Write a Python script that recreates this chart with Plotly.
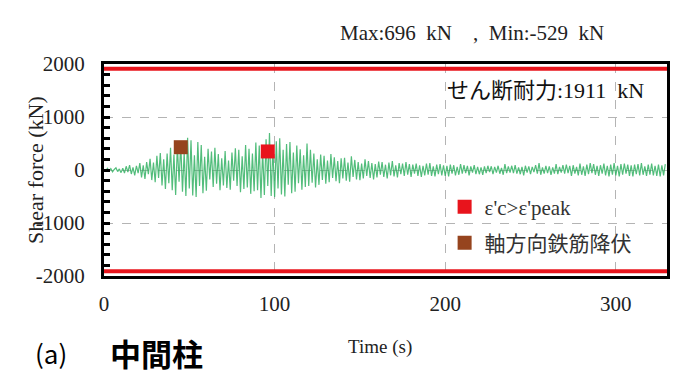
import plotly.graph_objects as go

# ---- data ----
time_step = 1.0
shear_force = [
    5, -20, 30, -15, 25, -35, 10, 40, -30, 20,
    -50, 35, -60, 70, -40, 90, -75, 50, -100, 80,
    -60, 130, -140, 90, -170, 150, -80, 210, -190, 140,
    -230, 270, -150, 320, -290, 200, -360, 310, -250, 420,
    -380, 290, -470, 450, -220, 500, -410, 330, -490, 610,
    -350, 560, -480, 280, -510, 530, -300, 470, -440, 250,
    -390, 400, -180, 350, -320, 420, -260, 300, -380, 220,
    -290, 360, -340, 180, -370, 330, -200, 410, -300, 380,
    -420, 260, -360, 470, -330, 400, -450, 310, -400, 520,
    -380, 460, -529, 350, -470, 580, -300, 696, -490, 430,
    -510, 540, -350, 600, -460, 380, -500, 490, -280, 530,
    -440, 330, -410, 460, -250, 390, -370, 280, -320, 500,
    -300, 380, -240, 310, -330, 200, -280, 290, -190, 270,
    -260, 180, -230, 300, -150, 240, -210, 170, -250, 220,
    -160, 230, -200, 140, -220, 260, -130, 190, -180, 150,
    -190, 120, -160, 200, -110, 170, -150, 130, -180, 110,
    -140, 160, -90, 150, -130, 100, -160, 140, -100, 170,
    -120, 90, -140, 130, -80, 120, -110, 150, -90, 110,
    -130, 100, -70, 120, -110, 90, -130, 80, -100, 120,
    -90, 130, -110, 70, -120, 100, -80, 110, -100, 90,
    -110, 80, -120, 100, -70, 90, -100, 60, -90, 110,
    -70, 90, -60, 80, -100, 70, -50, 90, -80, 60,
    -80, 50, -90, 70, -60, 80, -40, 70, -80, 60,
    -50, 80, -70, 40, -90, 110, -60, 70, -50, 80,
    -60, 90, -70, 50, -80, 60, -100, 80, -50, 70,
    -80, 60, -40, 90, -70, 130, -90, 50, -70, 80,
    -60, 70, -90, 50, -70, 110, -80, 60, -50, 90,
    -70, 100, -60, 80, -110, 90, -70, 60, -100, 120,
    -90, 70, -110, 100, -80, 130, -60, 110, -90, 80,
    -110, 90, -70, 120, -100, 80, -120, 100, -90, 130,
    -100, 80, -120, 110, -90, 120, -70, 100, -110, 90,
    -120, 100, -80, 110, -100, 130, -90, 70, -110, 100,
    -90, 120, -100, 80, -110, 100, -120, 90, -100, 110,
]
time_s = [i * time_step for i in range(len(shear_force))]

shear_capacity = 1911
max_force = 696
min_force = -529

peak_strain_time = [96]
peak_strain_force = [350]
rebar_yield_time = [45]
rebar_yield_force = [430]

x_range = [0, 330]
y_range = [-2000, 2000]
x_ticks = [0, 100, 200, 300]
y_ticks = [-2000, -1000, 0, 1000, 2000]
y_tick_labels = ["-2000", "-1000", "0", "1000", "2000"]

SERIF = "Liberation Serif, Noto Sans CJK JP"
SANS = "Noto Sans CJK JP, Noto Sans"

fig = go.Figure()

fig.add_trace(go.Scatter(
    x=time_s, y=shear_force, mode="lines",
    line=dict(color="rgba(52,178,100,0.85)", width=1.2),
    showlegend=False, hoverinfo="skip"))

for s in (1, -1):
    fig.add_trace(go.Scatter(
        x=x_range, y=[s * shear_capacity] * 2, mode="lines",
        line=dict(color="#e8141c", width=4),
        showlegend=False, hoverinfo="skip"))

fig.add_trace(go.Scatter(
    x=peak_strain_time, y=peak_strain_force, mode="markers",
    marker=dict(symbol="square", size=14, color="#e8141c"),
    name="ε'c>ε'peak", legend="legend"))
fig.add_trace(go.Scatter(
    x=rebar_yield_time, y=rebar_yield_force, mode="markers",
    marker=dict(symbol="square", size=14, color="#96441e"),
    name="軸方向鉄筋降伏", legend="legend2"))

axis_common = dict(
    showline=True, linecolor="black", linewidth=3, mirror=True,
    showgrid=True, gridcolor="#b4b4b4", griddash="dash", gridwidth=1,
    zeroline=False,
    tickfont=dict(family=SERIF, size=21, color="#222"),
)

fig.update_xaxes(range=x_range, tickvals=x_ticks, ticks="",
                 ticklabelstandoff=7, **axis_common)
fig.update_yaxes(range=y_range, tickvals=y_ticks, ticktext=y_tick_labels,
                 ticks="inside",
                 ticklen=6, tickwidth=3, tickcolor="black",
                 minor=dict(dtick=200, ticks="inside", ticklen=6,
                            tickwidth=3, tickcolor="black", showgrid=False),
                 ticklabelstandoff=12, **axis_common)

legend_common = dict(
    bgcolor="rgba(0,0,0,0)", borderwidth=0,
    font=dict(family=SERIF, size=21, color="#333"),
    xanchor="left", yanchor="middle", itemsizing="trace",
)

# page body adds an 8px offset; figure is drawn 8px smaller to compensate
fig.update_layout(
    width=692, height=378,
    margin=dict(l=96, r=33, t=56, b=110),
    paper_bgcolor="white", plot_bgcolor="white",
    legend=dict(x=0.605, y=0.325, **legend_common),
    legend2=dict(x=0.605, y=0.155, **legend_common),
    annotations=[
        dict(text=f"Max:{max_force}  kN    ,  Min:{min_force}  kN",
             xref="paper", yref="paper", x=0.654, y=1.0, yshift=31,
             showarrow=False, xanchor="center", yanchor="middle",
             font=dict(family=SERIF, size=21, color="#222")),
        dict(text=f"せん断耐力:{shear_capacity}  kN",
             xref="paper", yref="paper", x=0.963, y=0.877,
             showarrow=False, xanchor="right", yanchor="middle",
             font=dict(family=SERIF, size=22, color="#111")),
        dict(text="Shear force (kN)", textangle=-90,
             xref="paper", yref="paper", x=0, xshift=-69, y=0.5,
             showarrow=False, xanchor="center", yanchor="middle",
             font=dict(family=SERIF, size=22, color="#222")),
        dict(text="Time (s)",
             xref="paper", yref="paper", x=0.49, y=0, yshift=-71,
             showarrow=False, xanchor="center", yanchor="middle",
             font=dict(family=SERIF, size=19, color="#222")),
        dict(text="(a)", xref="paper", yref="paper", x=0, xshift=-71,
             y=0, yshift=-76, showarrow=False, xanchor="left",
             yanchor="middle",
             font=dict(family=SANS, size=26, color="black")),
        dict(text="<b>中間柱</b>", xref="paper", yref="paper", x=0,
             xshift=4, y=0, yshift=-76, showarrow=False, xanchor="left",
             yanchor="middle",
             font=dict(family=SANS, size=31, color="black")),
    ],
)

fig.write_html("out.html")
